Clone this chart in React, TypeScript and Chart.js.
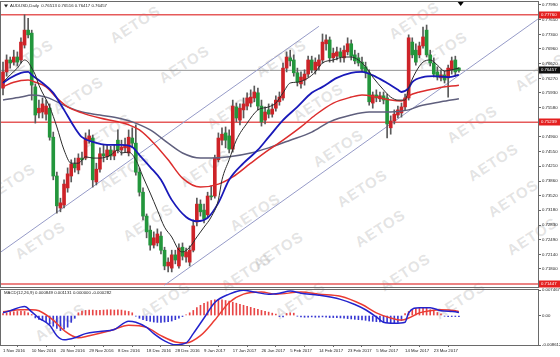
import React, { useEffect, useRef } from 'react';
import { Chart, registerables } from 'chart.js';

Chart.register(...registerables);

// ---------------- DATA ----------------
const symbolTitle = 'AUDUSD,Daily  0.76513 0.76516 0.76417 0.76457';
const macdTitle = 'MACD(12,26,9) 0.000849 0.001131 0.000000 -0.000282';

const dateLabels = ['1 Nov 2016', '10 Nov 2016', '20 Nov 2016', '29 Nov 2016', '8 Dec 2016', '18 Dec 2016', '28 Dec 2016', '9 Jan 2017', '17 Jan 2017', '26 Jan 2017', '5 Feb 2017', '14 Feb 2017', '23 Feb 2017', '5 Mar 2017', '14 Mar 2017', '23 Mar 2017'];
const barsPerLabel = 8;

const priceTicks = [0.7799, 0.7765, 0.773, 0.7696, 0.7662, 0.7627, 0.7593, 0.7558, 0.7524, 0.749, 0.7455, 0.7421, 0.7386, 0.7352, 0.7318, 0.7283, 0.7249, 0.7214, 0.718];
const macdTicks = [0.007467, 0, -0.008612];

const opens = [0.7604, 0.7642, 0.7670, 0.7665, 0.7677, 0.7670, 0.7705, 0.7740, 0.7733, 0.7607, 0.7546, 0.7548, 0.7543, 0.7557, 0.7489, 0.7398, 0.7323, 0.7330, 0.7370, 0.7398, 0.7426, 0.7412, 0.7440, 0.7440, 0.7482, 0.7487, 0.7384, 0.7414, 0.7450, 0.7443, 0.7459, 0.7445, 0.7482, 0.7459, 0.7464, 0.7452, 0.7487, 0.7475, 0.7407, 0.7360, 0.7304, 0.7271, 0.7236, 0.7241, 0.7257, 0.7224, 0.7187, 0.7182, 0.7213, 0.7187, 0.7231, 0.7208, 0.7196, 0.7224, 0.7290, 0.7332, 0.7318, 0.7307, 0.7351, 0.7351, 0.7436, 0.7482, 0.7499, 0.7492, 0.7461, 0.7560, 0.7529, 0.7553, 0.7562, 0.7569, 0.7581, 0.7593, 0.7562, 0.7529, 0.7553, 0.7543, 0.7557, 0.7572, 0.7581, 0.7651, 0.7675, 0.7670, 0.7640, 0.7614, 0.7623, 0.7637, 0.7670, 0.7647, 0.7656, 0.7670, 0.7708, 0.7717, 0.7675, 0.7679, 0.7689, 0.7675, 0.7689, 0.7708, 0.7682, 0.7675, 0.7665, 0.7654, 0.7640, 0.7569, 0.7588, 0.7579, 0.7586, 0.7581, 0.7511, 0.7527, 0.7541, 0.7546, 0.7560, 0.7581, 0.7712, 0.7693, 0.7682, 0.7703, 0.7740, 0.7682, 0.7663, 0.7642, 0.7628, 0.7635, 0.7628, 0.7647, 0.7670, 0.76513];
const highs = [0.7665, 0.7682, 0.7677, 0.7693, 0.7689, 0.7722, 0.7776, 0.7768, 0.7740, 0.7614, 0.7576, 0.7581, 0.7576, 0.7567, 0.7501, 0.7407, 0.7346, 0.7389, 0.7417, 0.7436, 0.7440, 0.7450, 0.7454, 0.7499, 0.7506, 0.7494, 0.7428, 0.7464, 0.7471, 0.7471, 0.7468, 0.7471, 0.7506, 0.7482, 0.7487, 0.7506, 0.7511, 0.7518, 0.7417, 0.7370, 0.7309, 0.7281, 0.7267, 0.7274, 0.7267, 0.7231, 0.7206, 0.7224, 0.7224, 0.7239, 0.7241, 0.7229, 0.7234, 0.7295, 0.7346, 0.7342, 0.7332, 0.7360, 0.7375, 0.7447, 0.7499, 0.7511, 0.7513, 0.7506, 0.7576, 0.7569, 0.7567, 0.7581, 0.7593, 0.7600, 0.7609, 0.7604, 0.7576, 0.7560, 0.7567, 0.7567, 0.7586, 0.7595, 0.7663, 0.7689, 0.7693, 0.7682, 0.7651, 0.7642, 0.7647, 0.7679, 0.7679, 0.7675, 0.7682, 0.7731, 0.7729, 0.7724, 0.7698, 0.7700, 0.7698, 0.7703, 0.7722, 0.7717, 0.7693, 0.7686, 0.7677, 0.7665, 0.7647, 0.7595, 0.7600, 0.7595, 0.7595, 0.7590, 0.7539, 0.7553, 0.7562, 0.7569, 0.7590, 0.7729, 0.7722, 0.7708, 0.7712, 0.7747, 0.7752, 0.7693, 0.7675, 0.7654, 0.7647, 0.7644, 0.7658, 0.7677, 0.7679, 0.76516];
const lows = [0.7588, 0.7632, 0.7651, 0.7658, 0.7656, 0.7663, 0.7698, 0.7722, 0.7576, 0.7522, 0.7534, 0.7534, 0.7529, 0.7482, 0.7389, 0.7311, 0.7314, 0.7323, 0.7360, 0.7384, 0.7407, 0.7403, 0.7424, 0.7436, 0.7475, 0.7372, 0.7377, 0.7407, 0.7431, 0.7436, 0.7436, 0.7436, 0.7452, 0.7447, 0.7454, 0.7445, 0.7464, 0.7400, 0.7351, 0.7295, 0.7253, 0.7224, 0.7229, 0.7234, 0.7215, 0.7178, 0.7173, 0.7173, 0.7192, 0.7182, 0.7201, 0.7196, 0.7187, 0.7220, 0.7281, 0.7304, 0.7288, 0.7300, 0.7342, 0.7346, 0.7431, 0.7471, 0.7464, 0.7452, 0.7454, 0.7525, 0.7518, 0.7534, 0.7553, 0.7560, 0.7572, 0.7553, 0.7515, 0.7520, 0.7534, 0.7536, 0.7550, 0.7564, 0.7576, 0.7642, 0.7656, 0.7632, 0.7609, 0.7604, 0.7611, 0.7630, 0.7640, 0.7637, 0.7647, 0.7663, 0.7693, 0.7665, 0.7665, 0.7670, 0.7665, 0.7665, 0.7682, 0.7670, 0.7661, 0.7656, 0.7642, 0.7628, 0.7564, 0.7557, 0.7572, 0.7572, 0.7567, 0.7487, 0.7496, 0.7520, 0.7534, 0.7536, 0.7553, 0.7576, 0.7675, 0.7658, 0.7675, 0.7698, 0.7677, 0.7656, 0.7630, 0.7623, 0.7621, 0.7616, 0.7583, 0.7637, 0.7632, 0.76417];
const closes = [0.7642, 0.7670, 0.7663, 0.7677, 0.7665, 0.7712, 0.7740, 0.7729, 0.7611, 0.7541, 0.7557, 0.7567, 0.7562, 0.7489, 0.7398, 0.7328, 0.7335, 0.7379, 0.7403, 0.7426, 0.7417, 0.7440, 0.7436, 0.7487, 0.7492, 0.7389, 0.7414, 0.7450, 0.7445, 0.7459, 0.7445, 0.7457, 0.7459, 0.7466, 0.7471, 0.7489, 0.7475, 0.7407, 0.7360, 0.7304, 0.7267, 0.7236, 0.7253, 0.7262, 0.7224, 0.7187, 0.7196, 0.7213, 0.7201, 0.7229, 0.7210, 0.7220, 0.7224, 0.7281, 0.7332, 0.7314, 0.7297, 0.7351, 0.7349, 0.7440, 0.7487, 0.7496, 0.7482, 0.7461, 0.7562, 0.7534, 0.7557, 0.7567, 0.7581, 0.7583, 0.7595, 0.7562, 0.7525, 0.7548, 0.7543, 0.7555, 0.7576, 0.7583, 0.7651, 0.7677, 0.7668, 0.7640, 0.7618, 0.7630, 0.7637, 0.7670, 0.7647, 0.7665, 0.7670, 0.7712, 0.7717, 0.7675, 0.7686, 0.7689, 0.7677, 0.7693, 0.7708, 0.7679, 0.7668, 0.7663, 0.7649, 0.7640, 0.7572, 0.7588, 0.7581, 0.7586, 0.7576, 0.7520, 0.7527, 0.7543, 0.7553, 0.7560, 0.7581, 0.7722, 0.7682, 0.7665, 0.7703, 0.7724, 0.7682, 0.7663, 0.7637, 0.7630, 0.7635, 0.7623, 0.7651, 0.7668, 0.7642, 0.76457];

// moving averages: [bar index, price]
const maFast = [[0, 0.7618], [2, 0.7635], [4, 0.7651], [6, 0.767], [7, 0.7665], [8, 0.7651], [9, 0.7635], [10, 0.7611], [13, 0.756], [15, 0.7513], [17, 0.7459], [19, 0.7428], [21, 0.7428], [23, 0.7443], [25, 0.744], [27, 0.744], [30, 0.7447], [32, 0.7459], [33, 0.7452], [35, 0.7454], [37, 0.7436], [39, 0.7396], [41, 0.7358], [43, 0.7318], [45, 0.7278], [47, 0.7255], [49, 0.7224], [50, 0.722], [52, 0.7231], [54, 0.7255], [56, 0.7278], [58, 0.7302], [60, 0.7342], [61, 0.7389], [63, 0.7436], [65, 0.7482], [68, 0.7522], [71, 0.7553], [74, 0.756], [76, 0.7569], [78, 0.7593], [80, 0.7616], [82, 0.7618], [85, 0.7628], [87, 0.7642], [89, 0.7663], [92, 0.767], [95, 0.7677], [97, 0.7677], [99, 0.767], [101, 0.7654], [103, 0.763], [106, 0.76], [108, 0.7583], [110, 0.7576], [112, 0.7576], [113, 0.7604], [115, 0.7642], [117, 0.7665], [119, 0.767], [121, 0.7658], [123, 0.7644], [125, 0.7647], [127, 0.7651]];
const maMid = [[0, 0.7616], [2, 0.7628], [5, 0.764], [7, 0.7642], [8, 0.7635], [11, 0.7616], [14, 0.7593], [17, 0.7553], [20, 0.7511], [22, 0.7489], [25, 0.7478], [29, 0.7471], [33, 0.7471], [36, 0.7466], [38, 0.7447], [41, 0.7419], [44, 0.7389], [47, 0.7342], [51, 0.7302], [54, 0.7292], [57, 0.73], [60, 0.7335], [63, 0.7389], [67, 0.7428], [71, 0.7459], [74, 0.7489], [78, 0.7529], [82, 0.756], [86, 0.7593], [89, 0.7607], [93, 0.7628], [97, 0.764], [100, 0.7642], [104, 0.763], [107, 0.7616], [110, 0.76], [111, 0.7595], [113, 0.7604], [114, 0.7618], [117, 0.763], [120, 0.7632], [124, 0.763], [127, 0.7635]];
const maSlow = [[0, 0.7607], [3, 0.7618], [7, 0.7623], [9, 0.7618], [12, 0.7607], [15, 0.7581], [18, 0.756], [22, 0.7546], [27, 0.7534], [32, 0.7525], [35, 0.7518], [38, 0.7506], [42, 0.7475], [46, 0.7436], [50, 0.7393], [55, 0.7372], [60, 0.7379], [64, 0.7396], [69, 0.7428], [74, 0.7459], [78, 0.7482], [83, 0.7513], [87, 0.7541], [92, 0.7569], [97, 0.7583], [100, 0.7588], [104, 0.7583], [108, 0.7576], [111, 0.7574], [113, 0.7586], [116, 0.7595], [121, 0.7604], [127, 0.7611]];
const maLong = [[0, 0.7576], [5, 0.7583], [8, 0.7588], [12, 0.7583], [18, 0.756], [22, 0.7548], [27, 0.7541], [32, 0.7534], [36, 0.7525], [41, 0.7506], [46, 0.7475], [50, 0.7452], [55, 0.744], [58, 0.744], [63, 0.7443], [69, 0.7452], [74, 0.7464], [80, 0.7482], [86, 0.7501], [91, 0.7525], [97, 0.7541], [102, 0.7548], [108, 0.7548], [113, 0.7553], [116, 0.7562], [122, 0.7572], [127, 0.7579]];

// trend channel lines: [bar index, price]
const channelUpper = [[-0.56, 0.722], [88, 0.7749]];
const channelLower = [[45, 0.7142], [149, 0.7766]];

// horizontal levels
const levelValues = [0.7776, 0.76457, 0.75239, 0.71447];
const levelIsPrice = [false, true, false, false];

// MACD: main line and signal [bar index, value]
const macdMain = [[0, 0.00079], [2, 0.0014], [6, 0.00261], [8, 0.00109], [10, -0.00073], [13, -0.00285], [15, -0.00589], [17, -0.0071], [20, -0.00649], [23, -0.00528], [27, -0.00467], [31, -0.00407], [35, -0.00164], [37, -0.00194], [40, -0.00346], [42, -0.00528], [45, -0.0074], [48, -0.00855], [51, -0.00801], [53, -0.00528], [56, -0.00073], [59, 0.00382], [63, 0.00625], [67, 0.0074], [70, 0.00686], [74, 0.00625], [77, 0.00655], [80, 0.00716], [83, 0.00655], [88, 0.00595], [94, 0.00473], [98, 0.00322], [101, 0.0017], [104, -0.00042], [106, -0.00194], [109, -0.00225], [112, -0.00194], [113, 0.00079], [116, 0.00231], [119, 0.00231], [122, 0.0014], [126, 0.00109], [127, 0.000849]];
const macdSignal = [[0, 0.00109], [5, 0.0017], [8, 0.0017], [10, 0.0014], [14, -0.00133], [17, -0.00437], [21, -0.00649], [24, -0.00589], [30, -0.00437], [35, -0.00285], [40, -0.00346], [44, -0.00589], [48, -0.00771], [51, -0.00801], [55, -0.00589], [59, -0.00133], [63, 0.00382], [67, 0.00625], [72, 0.00686], [76, 0.00625], [83, 0.00686], [88, 0.00625], [94, 0.00564], [100, 0.00322], [104, 0.00079], [108, -0.00073], [111, -0.00133], [113, -0.00073], [116, 0.00079], [119, 0.0014], [122, 0.0017], [126, 0.0014], [127, 0.001131]];
const macdHist = [0.0006, 0.0008, 0.001, 0.0011, 0.0012, 0.0013, 0.0012, 0.0008, 0.0003, -0.0007, -0.0011, -0.0015, -0.0019, -0.0025, -0.0031, -0.0038, -0.0044, -0.004, -0.0034, -0.002, -0.0008, 0.0008, 0.0013, 0.0015, 0.0016, 0.0016, 0.0015, 0.0015, 0.0016, 0.0017, 0.0017, 0.0016, 0.0017, 0.0016, 0.0014, 0.0012, 0.0008, -0.0002, -0.0008, -0.0012, -0.0015, -0.0017, -0.0019, -0.002, -0.002, -0.0019, -0.0018, -0.0016, -0.0012, -0.0008, -0.0003, 0.0002, 0.0008, 0.0015, 0.0023, 0.003, 0.0036, 0.004, 0.0044, 0.0046, 0.0047, 0.0046, 0.0044, 0.0042, 0.0039, 0.0036, 0.0033, 0.003, 0.0027, 0.0024, 0.0021, 0.0018, 0.0015, 0.0012, 0.001, 0.0007, 0.0004, -0.0003, -0.0004, 0.0006, 0.0008, 0.0007, -0.0002, -0.0004, -0.0005, -0.0005, -0.0004, -0.0005, -0.0005, -0.0004, -0.0005, -0.0006, -0.0006, -0.0006, -0.0007, -0.0008, -0.0009, -0.001, -0.0011, -0.0012, -0.0013, -0.0014, -0.0016, -0.0017, -0.0018, -0.0019, -0.002, -0.0021, -0.0022, -0.0022, -0.002, -0.0015, 0.0006, 0.0012, 0.0017, 0.0021, 0.0023, 0.0023, 0.0021, 0.0017, 0.0013, 0.0009, 0.0005, -0.0002, -0.0003, -0.0003, -0.0003, -0.0003, -0.000282];

const watermarkSpots = [[135, 24], [184, 64], [281, 58], [414, 20], [442, 50], [472, 124], [493, 162], [513, 198], [532, 236], [338, 148], [362, 188], [380, 228], [255, 212], [278, 250], [106, 132], [124, 172], [78, 95], [40, 240], [165, 300], [300, 300], [460, 300], [232, 110], [205, 168], [28, 58], [540, 72], [405, 272], [60, 322], [318, 102], [148, 222], [10, 182], [246, 272]];

// ---------------- STYLE ----------------
const FONT = "'Liberation Sans', Arial, sans-serif";
const FS = 4.3;
const BULL = 'rgb(205,35,40)';
const BEAR = 'rgb(35,150,60)';
const X_MIN = -0.56;
const X_MAX = 149.03;
const AXIS_W = 22;

const pts = (arr: number[][]) => arr.map(([x, y]) => ({ x, y }));

const framePlugin = {
  id: 'frame',
  afterDraw(chart: any) {
    const { ctx, chartArea: a } = chart;
    ctx.save();
    ctx.strokeStyle = '#6a6a6a';
    ctx.lineWidth = 1;
    ctx.strokeRect(Math.round(a.left) - 0.5, Math.round(a.top) - 0.5, Math.round(a.right - a.left) + 1, Math.round(a.bottom - a.top) + 1);
    ctx.restore();
  },
};

const mainDecor = {
  id: 'mainDecor',
  afterDraw(chart: any) {
    const { ctx, chartArea: a, scales } = chart;
    const y = scales.y;
    ctx.save();
    ctx.font = `${FS}px ${FONT}`;
    ctx.textBaseline = 'middle';
    levelValues.forEach((v, k) => {
      const py = Math.round(y.getPixelForValue(v));
      ctx.fillStyle = levelIsPrice[k] ? '#101010' : 'rgb(228,32,32)';
      ctx.fillRect(a.right + 1, py - 3.5, AXIS_W - 1, 7);
      ctx.fillStyle = '#ffffff';
      ctx.fillText(v.toFixed(5), a.right + 3, py + 0.3);
    });
    // title
    ctx.fillStyle = '#222';
    ctx.fillText(symbolTitle, a.left + 9, a.top + 4);
    ctx.beginPath();
    ctx.moveTo(a.left + 3, a.top + 2.5);
    ctx.lineTo(a.left + 7, a.top + 2.5);
    ctx.lineTo(a.left + 5, a.top + 5.5);
    ctx.closePath();
    ctx.fill();
    // chart shift marker
    const sx = scales.x.getPixelForValue(127.5);
    ctx.fillStyle = '#000';
    ctx.beginPath();
    ctx.moveTo(sx - 3, a.top);
    ctx.lineTo(sx + 3, a.top);
    ctx.lineTo(sx, a.top + 4);
    ctx.closePath();
    ctx.fill();
    ctx.restore();
  },
};

const macdDecor = {
  id: 'macdDecor',
  afterDraw(chart: any) {
    const { ctx, chartArea: a } = chart;
    ctx.save();
    ctx.font = `${FS}px ${FONT}`;
    ctx.textBaseline = 'middle';
    ctx.fillStyle = '#222';
    ctx.fillText(macdTitle, a.left + 3, a.top + 3);
    ctx.restore();
  },
};

function lineDs(label: string, data: any[], color: string, width: number, order: number, smooth = true) {
  return {
    type: 'line',
    label,
    data,
    borderColor: color,
    borderWidth: width,
    pointRadius: 0,
    fill: false,
    cubicInterpolationMode: smooth ? 'monotone' : 'default',
    tension: 0,
    order,
  };
}

export default function App() {
  const mainRef = useRef<HTMLCanvasElement>(null);
  const macdRef = useRef<HTMLCanvasElement>(null);

  useEffect(() => {
    document.body.style.margin = '0';
    const idx = opens.map((_, i) => i);
    const wickData = idx.map((i) => ({ x: i, y: [lows[i], highs[i]] }));
    const bodyData = idx.map((i) => ({ x: i, y: [opens[i], closes[i]] }));
    const bodyColors = idx.map((i) => (closes[i] >= opens[i] ? BULL : BEAR));

    const xScaleBase = {
      type: 'linear',
      min: X_MIN,
      max: X_MAX,
      offset: false,
      bounds: 'data',
    };

    const main = new Chart(mainRef.current as HTMLCanvasElement, {
      type: 'line',
      data: {
        datasets: [
          lineDs('MA fast', pts(maFast), '#2b2b2b', 1, 0),
          lineDs('MA mid', pts(maMid), 'rgb(25,25,185)', 1.8, 1),
          lineDs('MA slow', pts(maSlow), 'rgb(220,45,45)', 1.5, 2),
          lineDs('MA long', pts(maLong), 'rgb(95,95,125)', 1.5, 3),
          {
            type: 'bar',
            label: 'bodies',
            data: bodyData,
            backgroundColor: bodyColors,
            borderWidth: 0,
            barThickness: 3,
            grouped: false,
            minBarLength: 1,
            order: 5,
          },
          {
            type: 'bar',
            label: 'wicks',
            data: wickData,
            backgroundColor: '#5a5a5a',
            borderWidth: 0,
            barThickness: 1,
            grouped: false,
            order: 6,
          },
          lineDs('channel upper', pts(channelUpper), 'rgb(150,155,200)', 1, 7, false),
          lineDs('channel lower', pts(channelLower), 'rgb(150,155,200)', 1, 7, false),
          ...levelValues.map((v, k) =>
            lineDs('level ' + k, [{ x: X_MIN, y: v }, { x: X_MAX, y: v }], levelIsPrice[k] ? 'rgb(150,150,150)' : 'rgb(230,90,90)', levelIsPrice[k] ? 1 : 1.5, 8, false)
          ),
        ],
      } as any,
      options: {
        responsive: false,
        animation: false,
        events: [],
        layout: { padding: { left: 1, top: 2, right: 0, bottom: 1 } },
        plugins: { legend: { display: false }, tooltip: { enabled: false } },
        scales: {
          x: { ...xScaleBase, display: false },
          y: {
            type: 'linear',
            position: 'right',
            min: 0.71377,
            max: 0.7806,
            bounds: 'data',
            beginAtZero: false,
            afterBuildTicks: (s: any) => {
              s.ticks = priceTicks.map((v) => ({ value: v }));
            },
            afterFit: (s: any) => {
              s.width = AXIS_W;
              s.paddingTop = 0;
              s.paddingBottom = 0;
            },
            ticks: {
              autoSkip: false,
              padding: 1,
              color: '#222',
              font: { size: FS, family: FONT },
              callback: (v: any) => Number(v).toFixed(5),
            },
            grid: { drawOnChartArea: false, drawTicks: true, tickLength: 3, color: '#666' },
            border: { display: true, color: '#666' },
          },
        },
      } as any,
      plugins: [framePlugin, mainDecor],
    });

    const histData = idx.map((i) => ({ x: i, y: macdHist[i] }));
    const histColors = idx.map((i) => (macdHist[i] >= 0 ? 'rgb(232,70,70)' : 'rgb(55,55,210)'));

    const macd = new Chart(macdRef.current as HTMLCanvasElement, {
      type: 'line',
      data: {
        datasets: [
          lineDs('MACD', pts(macdMain), 'rgb(35,35,205)', 1.5, 0),
          lineDs('Signal', pts(macdSignal), 'rgb(235,60,50)', 1.5, 1),
          {
            type: 'bar',
            label: 'hist',
            data: histData,
            backgroundColor: histColors,
            borderWidth: 0,
            barThickness: 1,
            grouped: false,
            order: 3,
          },
        ],
      } as any,
      options: {
        responsive: false,
        animation: false,
        events: [],
        layout: { padding: { left: 1, top: 2, right: 0, bottom: 0 } },
        plugins: { legend: { display: false }, tooltip: { enabled: false } },
        scales: {
          x: {
            ...xScaleBase,
            position: 'bottom',
            afterBuildTicks: (s: any) => {
              s.ticks = dateLabels.map((_, k) => ({ value: k * barsPerLabel }));
            },
            afterFit: (s: any) => {
              s.height = 12;
              s.paddingLeft = 0;
              s.paddingRight = 0;
            },
            ticks: {
              autoSkip: false,
              maxRotation: 0,
              minRotation: 0,
              align: 'start',
              padding: 1,
              color: '#222',
              font: { size: FS, family: FONT },
              callback: (v: any) => dateLabels[Math.round(Number(v) / barsPerLabel)] ?? '',
            },
            grid: { drawOnChartArea: false, drawTicks: true, tickLength: 2, color: '#666' },
            border: { display: true, color: '#666' },
          },
          y: {
            type: 'linear',
            position: 'right',
            min: -0.008612,
            max: 0.007467,
            bounds: 'data',
            beginAtZero: false,
            afterBuildTicks: (s: any) => {
              s.ticks = macdTicks.map((v) => ({ value: v }));
            },
            afterFit: (s: any) => {
              s.width = AXIS_W;
              s.paddingTop = 0;
              s.paddingBottom = 0;
            },
            ticks: {
              autoSkip: false,
              padding: 1,
              color: '#222',
              font: { size: FS, family: FONT },
              callback: (v: any) => (Number(v) === 0 ? '0.00' : Number(v).toFixed(6)),
            },
            grid: { drawOnChartArea: false, drawTicks: true, tickLength: 3, color: '#666' },
            border: { display: true, color: '#666' },
          },
        },
      } as any,
      plugins: [framePlugin, macdDecor],
    });

    return () => {
      main.destroy();
      macd.destroy();
    };
  }, []);

  return (
    <div style={{ position: 'fixed', left: 0, top: 0, width: 560, height: 357, background: '#fff', overflow: 'hidden' }}>
      {watermarkSpots.map(([x, y], k) => (
        <span
          key={k}
          style={{
            position: 'absolute',
            left: x,
            top: y,
            transform: 'translate(-50%, -50%) rotate(-33deg)',
            fontFamily: FONT,
            fontWeight: 700,
            fontSize: 15,
            letterSpacing: 1,
            color: 'rgba(150,150,150,0.27)',
            whiteSpace: 'nowrap',
            pointerEvents: 'none',
          }}
        >
          AETOS
        </span>
      ))}
      <canvas ref={mainRef} width={560} height={288} style={{ position: 'absolute', left: 0, top: 0 }} />
      <canvas ref={macdRef} width={560} height={69} style={{ position: 'absolute', left: 0, top: 288 }} />
    </div>
  );
}
